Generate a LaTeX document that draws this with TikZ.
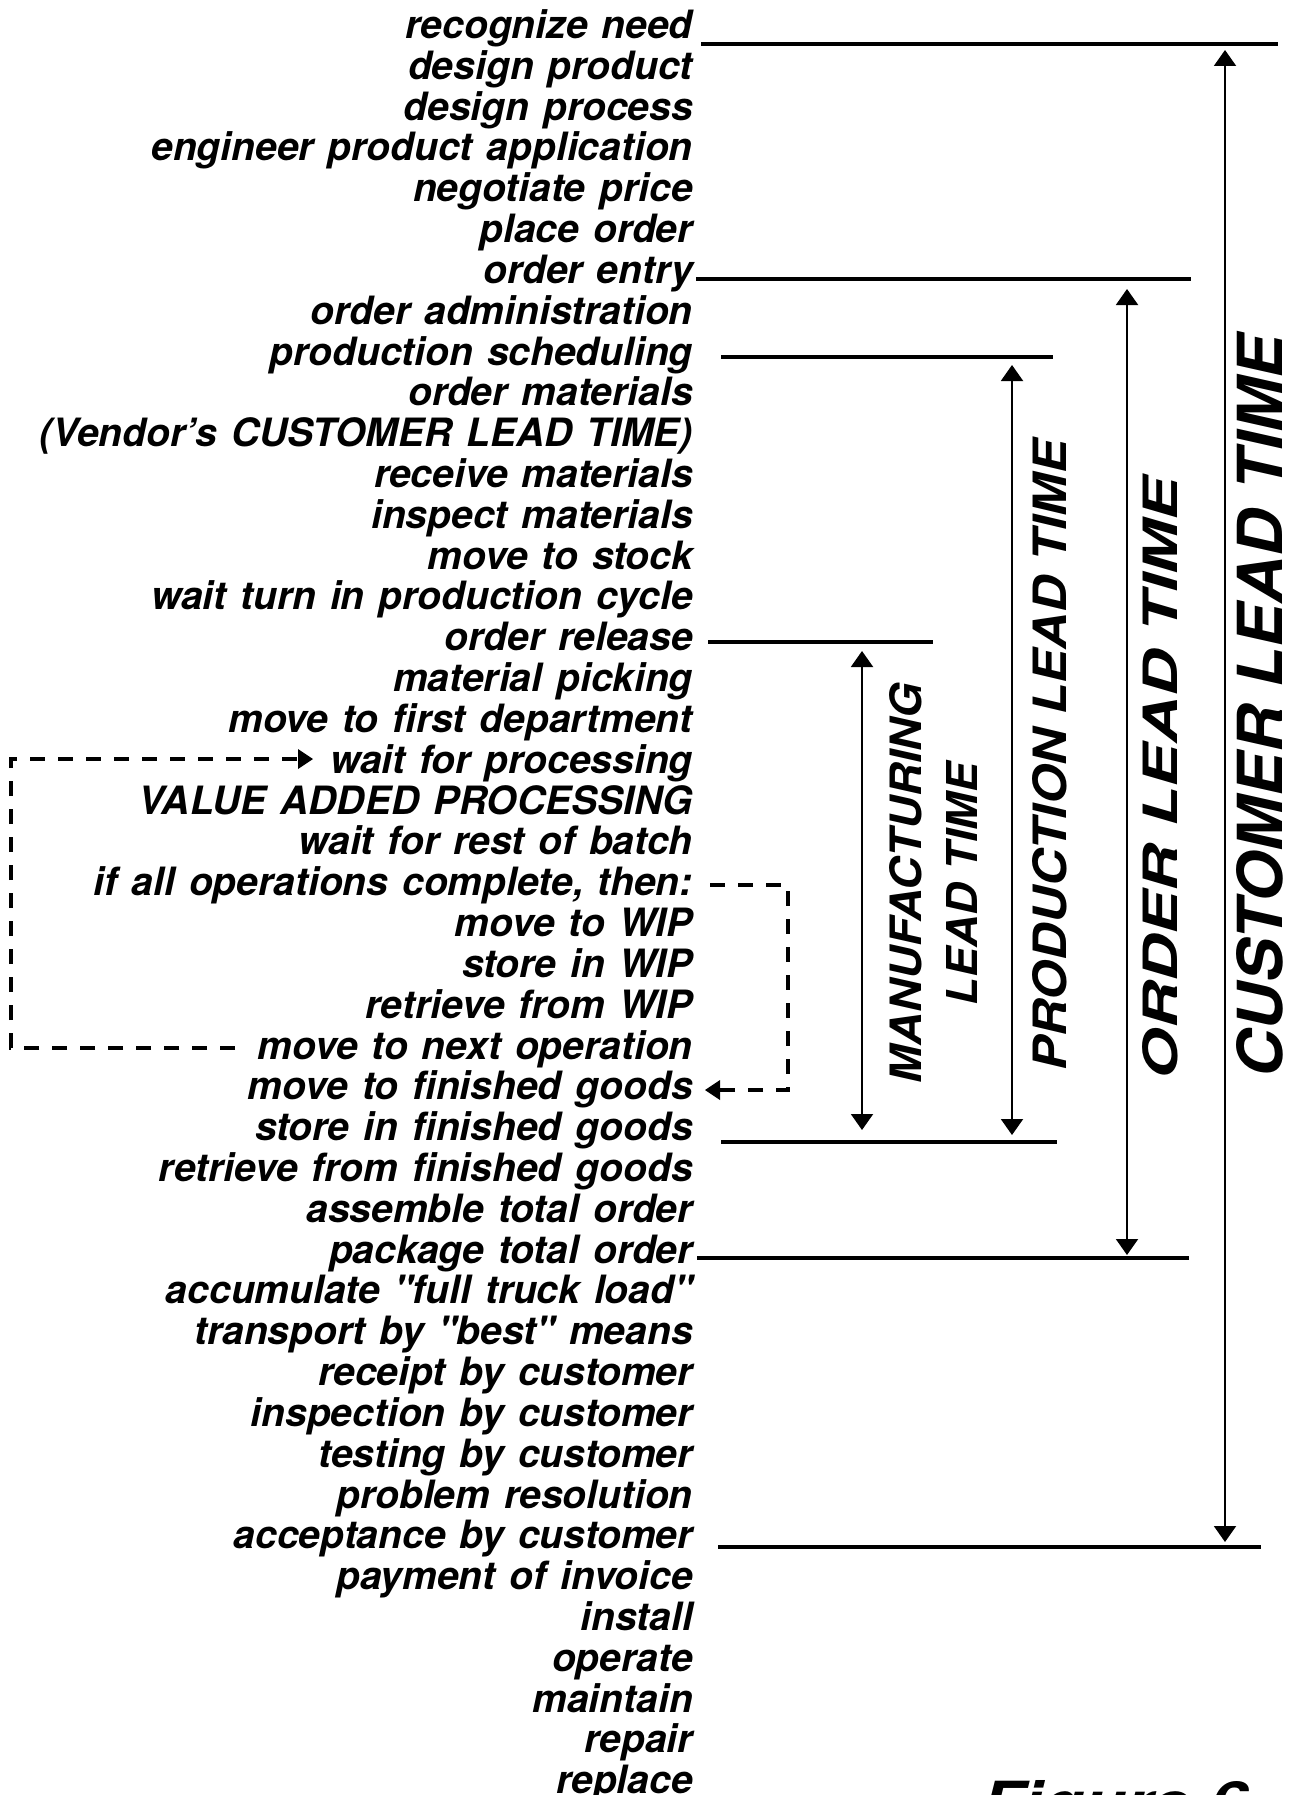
\documentclass[tikz,border=0pt]{standalone}
\usepackage{fontspec}
\newfontfamily\heros{TeX Gyre Heros}
\usepackage{graphicx}
\usetikzlibrary{arrows.meta}
\begin{document}
\begin{tikzpicture}[x=1pt,y=-1pt,
  item/.style={anchor=base east, inner sep=0pt, font=\heros\bfseries\itshape\fontsize{39}{39}\selectfont},
  vlabel/.style={rotate=90, inner sep=0pt, font=\heros\bfseries\itshape\fontsize{50}{50}\selectfont},
  rulebar/.style={line width=4pt},
  spanarrow/.style={line width=2pt, {Triangle[width=22pt,length=16pt]}-{Triangle[width=22pt,length=16pt]}},
  loopline/.style={line width=3.5pt, dash pattern=on 15pt off 13pt},
  looptip/.style={fill=black, draw=none}]
\useasboundingbox (0,0) rectangle (1301,1795);
\fill[white] (0,0) rectangle (1301,1795);

% activity list
\foreach \t [count=\i] in {recognize need, design product, design process,
  engineer product application, negotiate price, place order, order entry,
  order administration, production scheduling, order materials,
  (Vendor’s CUSTOMER LEAD TIME), receive materials, inspect materials,
  move to stock, wait turn in production cycle, order release,
  material picking, move to first department, wait for processing,
  VALUE ADDED PROCESSING, wait for rest of batch,
  {if all operations complete, then:}, move to WIP, store in WIP,
  retrieve from WIP, move to next operation, move to finished goods,
  store in finished goods, retrieve from finished goods,
  assemble total order, package total order,
  accumulate "full truck load", transport by "best" means,
  receipt by customer, inspection by customer, testing by customer,
  problem resolution, acceptance by customer, payment of invoice,
  install, operate, maintain, repair, replace}
  \node[item] (l\i) at (693,{38.5+(\i-1)*40.82}) {\spaceskip=14pt\relax\t};

% boundary rules
\coordinate (topA) at (701,44);   \coordinate (topB) at (1278,44);
\coordinate (entA) at (696,279);  \coordinate (entB) at (1191,279);
\coordinate (schA) at (721,357);  \coordinate (schB) at (1053,357);
\coordinate (relA) at (708,642);  \coordinate (relB) at (933,642);
\coordinate (stoA) at (721,1142); \coordinate (stoB) at (1057,1142);
\coordinate (pacA) at (697,1258); \coordinate (pacB) at (1189,1258);
\coordinate (accA) at (718,1547); \coordinate (accB) at (1261,1547);
\foreach \r in {top,ent,sch,rel,sto,pac,acc}
  \draw[rulebar] (\r A) -- (\r B);

% span arrows
\coordinate (cusT) at (1225,50);  \coordinate (cusB) at (1225,1542);
\coordinate (ordT) at (1127,289); \coordinate (ordB) at (1127,1255);
\coordinate (proT) at (1012,365); \coordinate (proB) at (1012,1135);
\coordinate (manT) at (862,651);  \coordinate (manB) at (862,1130);
\foreach \s in {cus,ord,pro,man}
  \draw[spanarrow] (\s T) -- (\s B);

% span labels
\node[vlabel] (cusL) at (1260,706) {\resizebox{743pt}{46pt}{CUSTOMER LEAD TIME}};
\node[vlabel] (ordL) at (1160,778) {\resizebox{602pt}{35pt}{ORDER LEAD TIME}};
\node[vlabel] (proL) at (1050,755) {\resizebox{630pt}{34pt}{PRODUCTION LEAD TIME}};
\node[vlabel] (manL1) at (906,883) {\resizebox{400pt}{32pt}{MANUFACTURING}};
\node[vlabel] (manL2) at (962,884) {\resizebox{242pt}{31pt}{LEAD TIME}};

% dashed loops
\coordinate (lpS) at (235,1048); \coordinate (lpC1) at (11,1048);
\coordinate (lpC2) at (11,759);  \coordinate (lpT) at (298,759);
\coordinate (lpE) at (313,759);
\draw[loopline] (lpS) -- (lpC1) -- (lpC2) -- (lpT);
\fill[looptip] (lpE) -- ([shift={(-15,-10)}]lpE) -- ([shift={(-15,10)}]lpE) -- cycle;
\coordinate (rpS) at (710,885);  \coordinate (rpC1) at (788,885);
\coordinate (rpC2) at (788,1090); \coordinate (rpT) at (720,1090);
\coordinate (rpE) at (705,1090);
\draw[loopline] (rpS) -- (rpC1) -- (rpC2) -- (rpT);
\fill[looptip] (rpE) -- ([shift={(15,-10)}]rpE) -- ([shift={(15,10)}]rpE) -- cycle;

% caption (cut off by the page edge)
\node[anchor=base west, inner sep=0pt, font=\heros\bfseries\itshape\fontsize{60}{60}\selectfont]
  (fig) at (982,1823) {\resizebox{265pt}{43pt}{Figure 6}};
\end{tikzpicture}
\end{document}
